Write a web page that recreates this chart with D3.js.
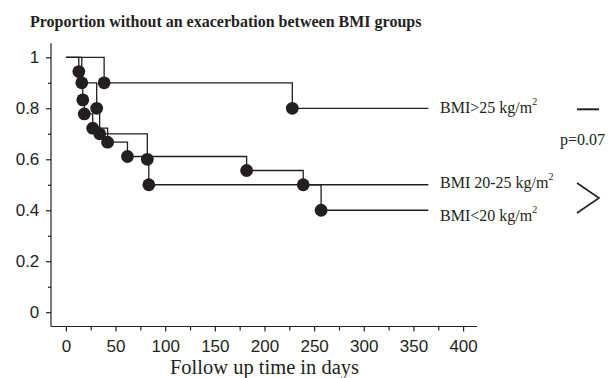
<!DOCTYPE html>
<html>
<head>
<meta charset="utf-8">
<script src="https://cdn.jsdelivr.net/npm/d3@7"></script>
<style>
  body { margin: 0; background: #fff; }
  svg { display: block; }
</style>
</head>
<body>
<div id="chart"></div>
<script>
// data
const groupNames = ["BMI>25 kg/m", "BMI 20-25 kg/m", "BMI<20 kg/m"];
const bmiOver25Days = [38.5, 228];
const bmiOver25Surv = [0.9, 0.8];
const bmi20to25Days = [13, 17, 18.5, 27, 42, 62, 182, 239];
const bmi20to25Surv = [0.944, 0.833, 0.778, 0.722, 0.667, 0.611, 0.556, 0.5];
const bmiUnder20Days = [16, 31, 34, 82, 83.5, 257];
const bmiUnder20Surv = [0.9, 0.8, 0.7, 0.6, 0.5, 0.4];
const followUpEnd = 365;
const xTickValues = [0, 50, 100, 150, 200, 250, 300, 350, 400];
const xMinorTicks = [25, 75, 125, 175, 225, 275, 325, 375];
const yTickValues = [0, 0.2, 0.4, 0.6, 0.8, 1];
const yMinorTicks = [0.1, 0.3, 0.5, 0.7, 0.9];
const pText = "p=0.07";

const width = 612, height = 378;
const ink = "#231f20";

const svg = d3.select("#chart").append("svg")
  .attr("width", width)
  .attr("height", height);

const x = d3.scaleLinear().domain([-15, 414]).range([51, 477]);
const y = d3.scaleLinear().domain([-0.056, 1.055]).range([326.5, 43.3]);

// title
svg.append("text")
  .attr("x", 30).attr("y", 27)
  .style("font", "bold 16px 'Liberation Serif', serif")
  .attr("fill", ink)
  .text("Proportion without an exacerbation between BMI groups");

// axes
const tickFont = "17px 'Liberation Sans', Arial, sans-serif";

const xAxisG = svg.append("g").attr("transform", `translate(0,${y.range()[0]})`);
xAxisG.call(d3.axisBottom(x).tickValues(xTickValues).tickSize(5).tickPadding(8.5).tickFormat(d3.format("d")));
xAxisG.append("g").call(d3.axisBottom(x).tickValues(xMinorTicks).tickSize(4).tickFormat(""))
  .select(".domain").remove();

const yAxisG = svg.append("g").attr("transform", `translate(${x.range()[0]},0)`);
yAxisG.call(d3.axisLeft(y).tickValues(yTickValues).tickSize(5).tickPadding(6.7).tickFormat(d => d === 0 || d === 1 ? d : d3.format(".1f")(d)));
yAxisG.append("g").call(d3.axisLeft(y).tickValues(yMinorTicks).tickSize(3).tickFormat(""))
  .select(".domain").remove();

xAxisG.select(".domain").attr("d", `M${x.range()[0]},0H${x.range()[1]}`);
yAxisG.select(".domain").attr("d", `M0,${y.range()[1]}V${y.range()[0]}`);

svg.selectAll(".tick text").style("font", tickFont).attr("fill", ink);
svg.selectAll(".tick line, .domain").attr("stroke", ink).attr("stroke-width", 1.2);

// x axis title
svg.append("text")
  .attr("x", (x(0) + x(400)) / 2).attr("y", 374)
  .attr("text-anchor", "middle")
  .style("font", "20.5px 'Liberation Serif', serif")
  .attr("fill", ink)
  .text("Follow up time in days");

// curves
const series = [
  { name: groupNames[0], days: bmiOver25Days, surv: bmiOver25Surv, labelDy: 5 },
  { name: groupNames[1], days: bmi20to25Days, surv: bmi20to25Surv, labelDy: 3.5 },
  { name: groupNames[2], days: bmiUnder20Days, surv: bmiUnder20Surv, labelDy: 10.5 }
];

const stepLine = d3.line()
  .x(d => x(d[0]))
  .y(d => y(d[1]))
  .curve(d3.curveStepAfter);

series.forEach(s => {
  const pts = [[0, 1]].concat(s.days.map((d, i) => [d, s.surv[i]]));
  pts.push([followUpEnd, s.surv[s.surv.length - 1]]);
  s.points = pts;
});

svg.append("g").selectAll("path")
  .data(series)
  .enter().append("path")
  .attr("d", d => stepLine(d.points))
  .attr("fill", "none")
  .attr("stroke", ink)
  .attr("stroke-width", 1.3);

series.forEach(s => {
  svg.append("g").selectAll("circle")
    .data(s.days.map((d, i) => [d, s.surv[i]]))
    .enter().append("circle")
    .attr("cx", d => x(d[0]))
    .attr("cy", d => y(d[1]))
    .attr("r", 6.4)
    .attr("fill", ink);
});

// group labels
const labels = svg.append("g").selectAll("text")
  .data(series)
  .enter().append("text")
  .attr("x", 440)
  .attr("y", d => y(d.surv[d.surv.length - 1]) + d.labelDy)
  .style("font", "16px 'Liberation Serif', serif")
  .attr("fill", ink);
labels.append("tspan").text(d => d.name);
labels.append("tspan").attr("dy", -8).style("font-size", "10px").text("2");

// comparison marks
svg.append("line")
  .attr("x1", 577).attr("x2", 599)
  .attr("y1", 109.3).attr("y2", 109.3)
  .attr("stroke", ink).attr("stroke-width", 2);

svg.append("text")
  .attr("x", 560).attr("y", 145)
  .style("font", "16px 'Liberation Serif', serif")
  .attr("fill", ink)
  .text(pText);

svg.append("path")
  .attr("d", "M577,183L599,198L577,213")
  .attr("fill", "none")
  .attr("stroke", ink)
  .attr("stroke-width", 1.6);
</script>
</body>
</html>
